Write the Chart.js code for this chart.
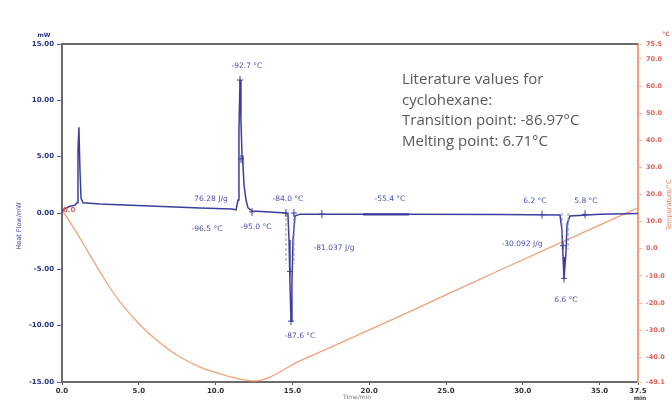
<!DOCTYPE html>
<html>
<head>
<meta charset="utf-8">
<script src="https://cdn.jsdelivr.net/npm/chart.js@4.4.1/dist/chart.umd.min.js"></script>
<style>
  html, body { margin: 0; padding: 0; background: #ffffff; }
  #wrap { position: relative; width: 672px; height: 401px; overflow: hidden; }
  #dsc { position: absolute; left: 0; top: 0; }
  #lit {
    position: absolute; left: 402px; top: 68px;
    font-family: "Open Sans", "Noto Sans", sans-serif;
    font-size: 15px; line-height: 20.5px; color: #585858;
    white-space: nowrap;
  }
</style>
</head>
<body>
<div id="wrap">
  <canvas id="dsc" width="672" height="401"></canvas>
  <div id="lit">Literature values for<br>cyclohexane:<br>Transition point: -86.97°C<br>Melting point: 6.71°C</div>
</div>
<script>
// Heat flow signal (time in min, heat flow in mW)
const flowTime = [0, 0.13, 0.52, 0.85, 0.98, 1.04, 1.10, 1.17, 1.24, 1.37, 2.47, 5.73, 8.98, 11.07, 11.33, 11.46, 11.52, 11.59, 11.65, 11.72, 11.78, 11.85, 11.98, 12.11, 12.37, 13.54, 14.58, 14.71, 14.78, 14.84, 14.91, 14.97, 15.04, 15.17, 15.49, 22.0, 28.5, 32.42, 32.55, 32.62, 32.68, 32.81, 32.88, 33.07, 35.03, 37.5];
const heatFlow = [0.1, 0.35, 0.6, 0.7, 0.9, 5.6, 7.6, 3.8, 1.3, 0.9, 0.8, 0.62, 0.44, 0.35, 0.27, 1.15, 7.4, 11.8, 8.25, 5.1, 4.3, 2.5, 1.15, 0.45, 0.18, 0.09, 0.0, -0.1, -2.4, -6.2, -9.6, -6.3, -2.4, -0.27, -0.1, -0.1, -0.13, -0.18, -1.5, -3.9, -5.8, -3.5, -1.0, -0.27, -0.1, -0.05];

// Temperature programme (time in min, temperature in °C)
const tempTime = [0, 0.85, 1.82, 2.80, 3.78, 5.08, 6.38, 7.68, 8.98, 10.29, 11.59, 12.57, 15.49, 22.0, 28.52, 35.03, 37.5];
const temperature = [14.3, 6.9, -2.3, -11.5, -19.6, -28.1, -34.7, -39.9, -43.6, -46.1, -48.0, -48.7, -41.3, -24.8, -7.8, 8.8, 15.1];

// Axis ticks
const timeTicks = [0, 5, 10, 15, 20, 25, 30, 35, 37.5];
const flowTicks = [-15, -10, -5, 0, 5, 10, 15];
const tempTicks = [-49.1, -40, -30, -20, -10, 0, 10, 20, 30, 40, 50, 60, 70, 75.5];

// Evaluation labels placed on the heat-flow curve
const evalText = ['-92.7 °C', '76.28 J/g', '-96.5 °C', '-95.0 °C', '-84.0 °C', '-55.4 °C', '-81.037 J/g', '-87.6 °C', '6.2 °C', '5.8 °C', '-30.092 J/g', '6.6 °C'];
const evalTime = [12.04, 9.70, 9.44, 12.63, 14.71, 21.35, 17.71, 15.49, 30.79, 34.11, 29.95, 32.81];
const evalFlow = [13.04, 1.24, -1.42, -1.24, 1.24, 1.24, -3.11, -10.9, 1.06, 1.06, -2.75, -7.7];

// Evaluation cursors (small crosses)
const cursorTime = [12.37, 14.58, 15.10, 16.92, 31.25, 34.05, 11.59, 11.65, 14.91, 14.84, 32.68, 32.62];
const cursorFlow = [0.1, 0.0, 0.0, -0.1, -0.15, -0.12, 11.8, 4.8, -9.6, -5.2, -5.8, -2.9];

const BLUE = '#3b3f9c';
const ORANGE = '#f2a27a';
const FRAME = '#6b6b6b';

const flowPoints = flowTime.map((t, i) => ({ x: t, y: heatFlow[i] }));
const tempPoints = tempTime.map((t, i) => ({ x: t, y: temperature[i] }));

const setTicks = (values) => (scale) => { scale.ticks = values.map(v => ({ value: v })); };

const decor = {
  id: 'decor',
  afterDatasetsDraw(chart) {
    const { ctx, chartArea: a, scales } = chart;
    const x = scales.x, y = scales.y;
    ctx.save();

    // top frame line
    ctx.strokeStyle = FRAME;
    ctx.lineWidth = 2;
    ctx.beginPath();
    ctx.moveTo(a.left, a.top);
    ctx.lineTo(a.right, a.top);
    ctx.stroke();

    // dashed helper lines of the peak evaluations
    ctx.strokeStyle = '#8a8fc4';
    ctx.lineWidth = 1;
    ctx.setLineDash([3, 2]);
    [[14.58, 0, -4.5], [15.10, 0, -4.5], [32.55, 0, -3.2], [32.95, 0, -3.2]].forEach(([t, f0, f1]) => {
      ctx.beginPath();
      ctx.moveTo(x.getPixelForValue(t), y.getPixelForValue(f0));
      ctx.lineTo(x.getPixelForValue(t), y.getPixelForValue(f1));
      ctx.stroke();
    });
    ctx.setLineDash([]);

    // baseline segment of the -55.4 °C step
    ctx.strokeStyle = BLUE;
    ctx.lineWidth = 2.2;
    ctx.beginPath();
    ctx.moveTo(x.getPixelForValue(19.6), y.getPixelForValue(-0.12));
    ctx.lineTo(x.getPixelForValue(22.6), y.getPixelForValue(-0.12));
    ctx.stroke();

    // cursors
    ctx.strokeStyle = BLUE;
    ctx.lineWidth = 1;
    cursorTime.forEach((t, i) => {
      const px = x.getPixelForValue(t), py = y.getPixelForValue(cursorFlow[i]);
      ctx.beginPath();
      ctx.moveTo(px - 3, py); ctx.lineTo(px + 3, py);
      ctx.moveTo(px, py - 4); ctx.lineTo(px, py + 4);
      ctx.stroke();
    });

    // evaluation labels
    ctx.fillStyle = '#4a50a8';
    ctx.font = '7.5px "DejaVu Sans", sans-serif';
    ctx.textAlign = 'center';
    ctx.textBaseline = 'middle';
    evalText.forEach((s, i) => {
      ctx.fillText(s, x.getPixelForValue(evalTime[i]), y.getPixelForValue(evalFlow[i]));
    });

    // start marker of the temperature trace
    ctx.fillStyle = '#e0605a';
    ctx.font = 'bold 7px "DejaVu Sans", sans-serif';
    ctx.textAlign = 'left';
    ctx.fillText('0.0', a.left + 1, y.getPixelForValue(0.25));

    // unit and axis captions
    ctx.font = 'bold 6px "DejaVu Sans", sans-serif';
    ctx.fillStyle = '#2a3580';
    ctx.textAlign = 'center';
    ctx.fillText('mW', 44, 35);
    ctx.fillStyle = '#e0605a';
    ctx.fillText('°C', 666, 34);
    ctx.fillStyle = '#333333';
    ctx.fillText('min', a.right + 2, 398);
    ctx.font = '6px "DejaVu Sans", sans-serif';
    ctx.fillStyle = '#777777';
    ctx.fillText('Time/min', 357, 397);

    ctx.save();
    ctx.translate(19, 226);
    ctx.rotate(-Math.PI / 2);
    ctx.fillStyle = '#3a4aa0';
    ctx.font = '6.5px "DejaVu Sans", sans-serif';
    ctx.fillText('Heat Flow/mW', 0, 0);
    ctx.restore();

    ctx.save();
    ctx.translate(669, 205);
    ctx.rotate(-Math.PI / 2);
    ctx.fillStyle = '#e8835f';
    ctx.font = '6.5px "DejaVu Sans", sans-serif';
    ctx.fillText('Temperature/°C', 0, 0);
    ctx.restore();

    ctx.restore();
  }
};

new Chart(document.getElementById('dsc'), {
  type: 'line',
  data: {
    datasets: [
      { label: 'Heat Flow', data: flowPoints, yAxisID: 'y', borderColor: BLUE, borderWidth: 1.5, pointRadius: 0, tension: 0, fill: false },
      { label: 'Temperature', data: tempPoints, yAxisID: 'y2', borderColor: ORANGE, borderWidth: 1.3, pointRadius: 0, cubicInterpolationMode: 'monotone', fill: false }
    ]
  },
  options: {
    responsive: false,
    animation: false,
    devicePixelRatio: 1,
    layout: { padding: { top: 44, left: 0, right: 0, bottom: 0 } },
    plugins: { legend: { display: false }, tooltip: { enabled: false } },
    scales: {
      x: {
        type: 'linear', position: 'bottom', min: 0, max: 37.5,
        afterBuildTicks: setTicks(timeTicks),
        afterFit: (s) => { s.height = 19; },
        border: { color: FRAME, width: 2 },
        grid: { drawOnChartArea: false, drawTicks: true, tickLength: 3, color: '#555555' },
        ticks: { autoSkip: false, maxRotation: 0, padding: 2, color: '#333333', font: { size: 7, weight: 'bold', family: 'DejaVu Sans' }, callback: (v) => Number(v).toFixed(1) }
      },
      y: {
        type: 'linear', position: 'left', min: -15, max: 15,
        afterBuildTicks: setTicks(flowTicks),
        afterFit: (s) => { s.width = 62; },
        border: { color: FRAME, width: 2 },
        grid: { drawOnChartArea: false, drawTicks: true, tickLength: 5, color: '#5560b0' },
        ticks: { autoSkip: false, padding: 3, color: '#2a3580', font: { size: 7, weight: 'bold', family: 'DejaVu Sans' }, callback: (v) => Number(v).toFixed(2) }
      },
      y2: {
        type: 'linear', position: 'right', min: -49.1, max: 75.5,
        afterBuildTicks: setTicks(tempTicks),
        afterFit: (s) => { s.width = 34; },
        border: { color: ORANGE, width: 2 },
        grid: { drawOnChartArea: false, drawTicks: true, tickLength: 4, color: '#f3b89a' },
        ticks: { autoSkip: false, padding: 4, color: '#e0605a', font: { size: 6.5, weight: 'bold', family: 'DejaVu Sans' }, callback: (v) => Number(v).toFixed(1) }
      }
    }
  },
  plugins: [decor]
});
</script>
</body>
</html>
